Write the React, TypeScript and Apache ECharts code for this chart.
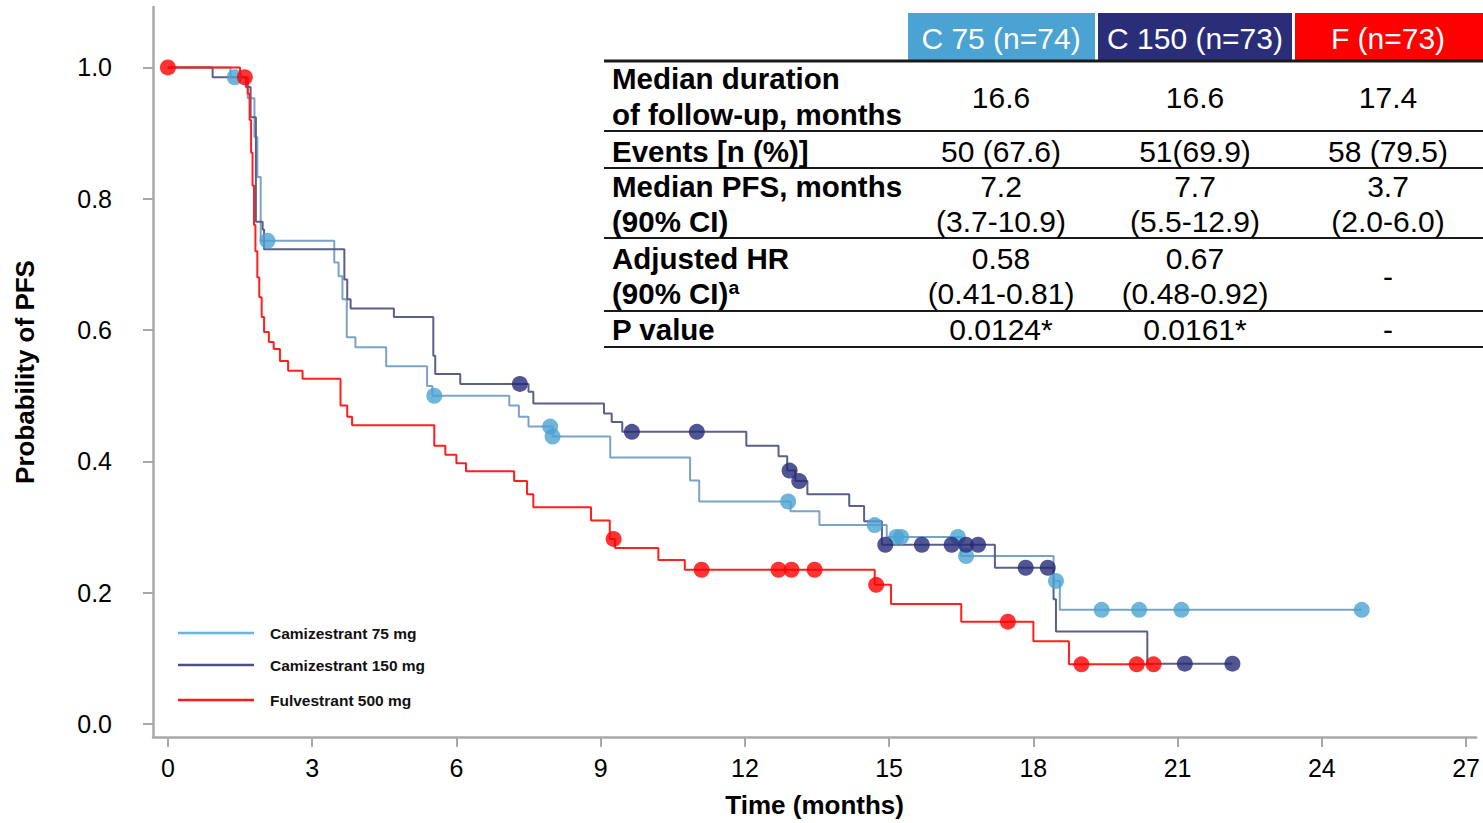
import React, { useEffect, useRef } from "react";
import * as echarts from "echarts";

// ---------- DATA ----------
const seriesNames = ["Camizestrant 75 mg", "Camizestrant 150 mg", "Fulvestrant 500 mg"];

const xTicks = [0, 3, 6, 9, 12, 15, 18, 21, 24, 27];
const yTicks = [0, 0.2, 0.4, 0.6, 0.8, 1.0];

// Kaplan-Meier steps [time (months), probability]
const c75Steps: number[][] = [
  [0, 1.0], [1.3, 0.985], [1.66, 0.953], [1.8, 0.894], [1.86, 0.833], [1.93, 0.736],
  [3.46, 0.703], [3.55, 0.682], [3.63, 0.647], [3.72, 0.589], [3.9, 0.574], [4.54, 0.545],
  [5.39, 0.515], [5.5, 0.5], [7.1, 0.485], [7.3, 0.468], [7.5, 0.453], [8.0, 0.438],
  [9.2, 0.406], [10.86, 0.371], [11.05, 0.339], [12.95, 0.324], [13.55, 0.303],
  [14.95, 0.285], [16.5, 0.256], [18.42, 0.218], [18.55, 0.174], [24.83, 0.174],
];
const c150Steps: number[][] = [
  [0, 1.0], [0.93, 0.985], [1.62, 0.97], [1.72, 0.924], [1.83, 0.765], [1.97, 0.753],
  [2.0, 0.723], [3.67, 0.677], [3.73, 0.647], [3.8, 0.633], [4.7, 0.62], [5.52, 0.561],
  [5.56, 0.533], [6.08, 0.518], [7.5, 0.506], [7.6, 0.488], [9.07, 0.473], [9.23, 0.46],
  [9.45, 0.445], [12.03, 0.424], [12.7, 0.408], [12.88, 0.386], [13.05, 0.37],
  [13.3, 0.35], [14.17, 0.332], [14.48, 0.309], [14.85, 0.273], [17.2, 0.238],
  [18.42, 0.19], [18.47, 0.141], [20.37, 0.092], [22.14, 0.092],
];
const fulSteps: number[][] = [
  [0, 1.0], [1.5, 0.985], [1.66, 0.96], [1.7, 0.92], [1.73, 0.87], [1.76, 0.82],
  [1.79, 0.76], [1.82, 0.72], [1.86, 0.68], [1.9, 0.65], [1.95, 0.62], [2.0, 0.597],
  [2.1, 0.582], [2.2, 0.571], [2.33, 0.553], [2.5, 0.538], [2.8, 0.526], [3.59, 0.485],
  [3.73, 0.468], [3.83, 0.455], [5.54, 0.424], [5.77, 0.41], [6.0, 0.397], [6.2, 0.385],
  [7.2, 0.37], [7.47, 0.35], [7.6, 0.33], [8.8, 0.31], [9.19, 0.282], [9.3, 0.268],
  [10.2, 0.25], [10.75, 0.235], [14.7, 0.212], [15.04, 0.183], [16.5, 0.156],
  [18.0, 0.126], [18.74, 0.091], [20.5, 0.091],
];

// Censored observations
const c75Censor: number[][] = [
  [1.39, 0.985], [2.07, 0.736], [5.54, 0.5], [7.95, 0.453], [8.0, 0.438], [12.9, 0.339],
  [14.7, 0.303], [15.15, 0.285], [15.25, 0.285], [16.43, 0.285], [16.6, 0.256],
  [18.47, 0.218], [19.42, 0.174], [20.2, 0.174], [21.08, 0.174], [24.83, 0.174],
];
const c150Censor: number[][] = [
  [7.32, 0.518], [9.65, 0.445], [11.0, 0.445], [12.93, 0.386], [13.13, 0.37],
  [14.92, 0.273], [15.68, 0.273], [16.3, 0.273], [16.6, 0.273], [16.85, 0.273],
  [17.84, 0.238], [18.3, 0.238], [21.15, 0.092], [22.14, 0.092],
];
const fulCensor: number[][] = [
  [0, 1.0], [1.6, 0.985], [9.27, 0.282], [11.1, 0.235], [12.7, 0.235], [12.97, 0.235],
  [13.45, 0.235], [14.73, 0.212], [17.47, 0.156], [19.0, 0.091], [20.15, 0.091], [20.5, 0.091],
];

// Table
const tableHeaders = ["C 75 (n=74)", "C 150 (n=73)", "F (n=73)"];
const rowLabels = [
  "Median duration", "of follow-up, months", "Events [n (%)]", "Median PFS, months",
  "(90% CI)", "Adjusted HR", "(90% CI)ª", "P value",
];
const followUp = ["16.6", "16.6", "17.4"];
const events = ["50 (67.6)", "51(69.9)", "58 (79.5)"];
const medianPfs = ["7.2", "7.7", "3.7"];
const medianPfsCi = ["(3.7-10.9)", "(5.5-12.9)", "(2.0-6.0)"];
const adjHr = ["0.58", "0.67", ""];
const adjHrCi = ["(0.41-0.81)", "(0.48-0.92)", ""];
const adjHrDash = ["", "", "-"];
const pValues = ["0.0124*", "0.0161*", "-"];

// ---------- STYLE ----------
const FONT = "'Liberation Sans', Arial, Helvetica, sans-serif";
const markerColors = ["#4BA3D3", "#262B78", "#FF0000"];
const lineColors = ["#7AA3C8", "#5C5F87", "#FF1F1F"];
const legendLineColors = ["#6AB4E0", "#4D4F8F", "#FF1A1A"];
const headerColors = ["#4BA3D3", "#2A2D78", "#FF0000"];

export default function App() {
  const ref = useRef<HTMLDivElement>(null);

  useEffect(() => {
    if (!ref.current) return;
    const chart = echarts.init(ref.current, undefined, { renderer: "svg" });

    const colX = [1001, 1195, 1388];
    const graphic: any[] = [];

    // table header
    const hdrRects = [
      [908, 187],
      [1098, 194],
      [1295, 188],
    ];
    tableHeaders.forEach((h, i) => {
      graphic.push({
        type: "rect",
        shape: { x: hdrRects[i][0], y: 13, width: hdrRects[i][1], height: 47 },
        style: { fill: headerColors[i] },
        silent: true,
      });
      graphic.push({
        type: "text",
        x: colX[i],
        y: 38,
        style: {
          text: h, fill: "#ffffff", font: `30px ${FONT}`,
          textAlign: "center", textVerticalAlign: "middle",
        },
      });
    });
    // table lines
    [61, 131, 168, 238, 311, 347].forEach((y, i) => {
      graphic.push({
        type: "line",
        shape: { x1: 604, y1: y, x2: 1483, y2: y },
        style: { stroke: "#1a1a1a", lineWidth: i === 0 ? 3 : 2 },
        silent: true,
      });
    });
    // row labels
    const labelY = [78, 114, 151, 186, 221, 258, 293, 329];
    rowLabels.forEach((t, i) => {
      graphic.push({
        type: "text",
        x: 612,
        y: labelY[i],
        style: {
          text: t, fill: "#000", font: `bold 29.5px ${FONT}`,
          textAlign: "left", textVerticalAlign: "middle",
        },
      });
    });
    const valueRows: [string[], number][] = [
      [followUp, 97], [events, 151], [medianPfs, 186], [medianPfsCi, 221],
      [adjHr, 258], [adjHrCi, 293], [adjHrDash, 276], [pValues, 329],
    ];
    valueRows.forEach(([vals, y]) => {
      vals.forEach((v, i) => {
        if (!v) return;
        graphic.push({
          type: "text",
          x: colX[i],
          y,
          style: {
            text: v, fill: "#000", font: `30px ${FONT}`,
            textAlign: "center", textVerticalAlign: "middle",
          },
        });
      });
    });

    // legend
    const legY = [633, 665, 700];
    seriesNames.forEach((n, i) => {
      graphic.push({
        type: "line",
        shape: { x1: 178, y1: legY[i], x2: 254, y2: legY[i] },
        style: { stroke: legendLineColors[i], lineWidth: 2.5 },
        silent: true,
      });
      graphic.push({
        type: "text",
        x: 270,
        y: legY[i],
        style: {
          text: n, fill: "#111", font: `bold 15.5px ${FONT}`,
          textAlign: "left", textVerticalAlign: "middle",
        },
      });
    });

    const steps = [c75Steps, c150Steps, fulSteps];
    const censors = [c75Censor, c150Censor, fulCensor];

    const series: any[] = [];
    steps.forEach((d, i) => {
      series.push({
        name: seriesNames[i],
        type: "line",
        step: "end",
        data: d,
        showSymbol: false,
        symbol: "none",
        lineStyle: { color: lineColors[i], width: 2 },
        itemStyle: { color: lineColors[i] },
        z: 2 + i,
        silent: true,
      });
    });
    censors.forEach((d, i) => {
      series.push({
        name: seriesNames[i] + " (censored)",
        type: "scatter",
        data: d,
        symbol: "circle",
        symbolSize: 16,
        itemStyle: { color: markerColors[i] },
        z: 5 + i,
        silent: true,
      });
    });

    chart.setOption({
      animation: false,
      backgroundColor: "#ffffff",
      grid: { left: 153, right: 0, top: 7, bottom: 81, containLabel: false },
      xAxis: {
        type: "value",
        min: -0.31,
        max: 27.21,
        name: "Time (months)",
        nameLocation: "middle",
        nameGap: 55,
        nameTextStyle: { fontFamily: FONT, fontSize: 26, fontWeight: "bold", color: "#000" },
        axisLine: { show: true, onZero: false, lineStyle: { color: "#a8a8a8", width: 2.5 } },
        axisTick: {
          show: true, customValues: xTicks, length: 10, inside: false,
          lineStyle: { color: "#a8a8a8", width: 2 },
        },
        axisLabel: {
          customValues: xTicks, margin: 18, color: "#000",
          fontFamily: FONT, fontSize: 25,
          formatter: (v: number) => String(v),
        },
        splitLine: { show: false },
      },
      yAxis: {
        type: "value",
        min: -0.0197,
        max: 1.092,
        name: "Probability of PFS",
        nameLocation: "middle",
        nameRotate: 90,
        nameGap: 115,
        nameTextStyle: { fontFamily: FONT, fontSize: 26, fontWeight: "bold", color: "#000" },
        axisLine: { show: true, onZero: false, lineStyle: { color: "#a8a8a8", width: 2.5 } },
        axisTick: {
          show: true, customValues: yTicks, length: 10, inside: false,
          lineStyle: { color: "#a8a8a8", width: 2 },
        },
        axisLabel: {
          customValues: yTicks, margin: 41, color: "#000",
          fontFamily: FONT, fontSize: 25, padding: [0, 0, 9, 0],
          formatter: (v: number) => v.toFixed(1),
        },
        splitLine: { show: false },
      },
      graphic,
      series,
    });

    return () => chart.dispose();
  }, []);

  return (
    <div
      ref={ref}
      style={{ position: "fixed", left: 0, top: 0, width: 1483, height: 823, background: "#fff" }}
    />
  );
}
